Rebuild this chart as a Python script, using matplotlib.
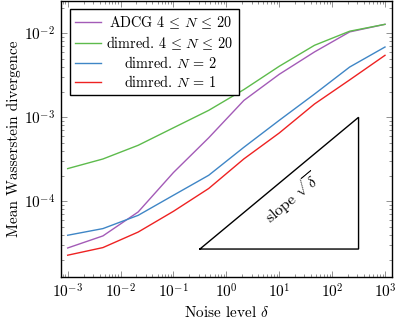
import numpy as np
import matplotlib
matplotlib.use("Agg")
import matplotlib.pyplot as plt
from matplotlib.ticker import LogLocator, NullFormatter

plt.rcParams["font.family"] = "serif"
plt.rcParams["font.serif"] = ["cmr10"]
plt.rcParams["mathtext.fontset"] = "cm"
plt.rcParams["axes.formatter.use_mathtext"] = True
plt.rcParams["font.size"] = 11

# noise levels
delta = [0.001, 0.00464, 0.0215, 0.1, 0.464, 2.15, 10, 46.4, 215, 1000]

# mean Wasserstein divergence per method
adcg = [2.78e-5, 3.87e-5, 7.46e-5, 2.2e-4, 5.7e-4, 1.59e-3, 3.25e-3, 6.0e-3, 1.04e-2, 1.28e-2]
dimred_multi = [2.45e-4, 3.19e-4, 4.64e-4, 7.5e-4, 1.21e-3, 2.14e-3, 4.05e-3, 7.2e-3, 1.06e-2, 1.28e-2]
dimred_n2 = [3.94e-5, 4.73e-5, 6.8e-5, 1.18e-4, 2.04e-4, 4.4e-4, 9.2e-4, 1.89e-3, 3.97e-3, 6.87e-3]
dimred_n1 = [2.28e-5, 2.81e-5, 4.3e-5, 7.6e-5, 1.42e-4, 3.2e-4, 6.5e-4, 1.44e-3, 2.79e-3, 5.47e-3]

labels = [r"ADCG $4\,\leq\,N\,\leq\,20$", r"dimred. $4\,\leq\,N\,\leq\,20$",
          r"dimred. $N\,=\,2$", r"dimred. $N\,=\,1$"]
colors = ["#a35bb7", "#5dbb4c", "#3f86c6", "#ee2222"]

# slope triangle corners
tri_x = [10**-0.5, 10**2.5, 10**2.5, 10**-0.5]
tri_y = [2.7e-5, 2.7e-5, 1e-3, 2.7e-5]

fig = plt.figure(figsize=(3.98, 3.19), dpi=100)
ax = fig.add_axes([0.1525, 0.1326, 0.8317, 0.8643])

for ys, lab, c in zip([adcg, dimred_multi, dimred_n2, dimred_n1], labels, colors):
    ax.plot(delta, ys, color=c, lw=1.0, label=lab)

ax.plot(tri_x, tri_y, color="k", lw=1.0, solid_joinstyle="miter")
ax.text(17, 1.08e-4, r"slope $\sqrt{\delta}$", rotation=39.7, fontsize=11.5,
        ha="center", va="center", rotation_mode="anchor")

ax.set_xscale("log")
ax.set_yscale("log")
ax.set_xlim(10**-3.132, 10**3.127)
ax.set_ylim(10**-4.898, 10**-1.615)

ax.xaxis.set_major_locator(LogLocator(base=10, numticks=20))
ax.xaxis.set_minor_locator(LogLocator(base=10, subs=np.arange(2, 10), numticks=20))
ax.xaxis.set_minor_formatter(NullFormatter())
ax.yaxis.set_minor_locator(LogLocator(base=10, subs=np.arange(2, 10), numticks=20))
ax.yaxis.set_minor_formatter(NullFormatter())
ax.tick_params(which="both", direction="in", top=True, right=True, width=0.5, color="0.4")
ax.tick_params(which="major", length=4, pad=4)
ax.tick_params(which="minor", length=2)
for s in ax.spines.values():
    s.set_linewidth(1.0)

ax.set_xlabel(r"Noise level $\delta$", labelpad=3)
ax.set_ylabel("Mean Wasserstein divergence", labelpad=2)

leg = ax.legend(loc="upper left", bbox_to_anchor=(0.028, 0.970), borderaxespad=0,
                fancybox=False, edgecolor="k", framealpha=1, labelspacing=0.2,
                handlelength=1.8, handletextpad=0.4, borderpad=0.35, fontsize=10.3)
leg.get_frame().set_linewidth(1.0)

# center the legend texts like pgfplots does
fig.canvas.draw()
r = fig.canvas.get_renderer()
texts = leg.get_texts()
widths = [t.get_window_extent(r).width for t in texts]
wmax = max(widths)
for t, w in zip(texts, widths):
    t.set_x((wmax - w) / 2)

fig.savefig("out.png", dpi=100)
